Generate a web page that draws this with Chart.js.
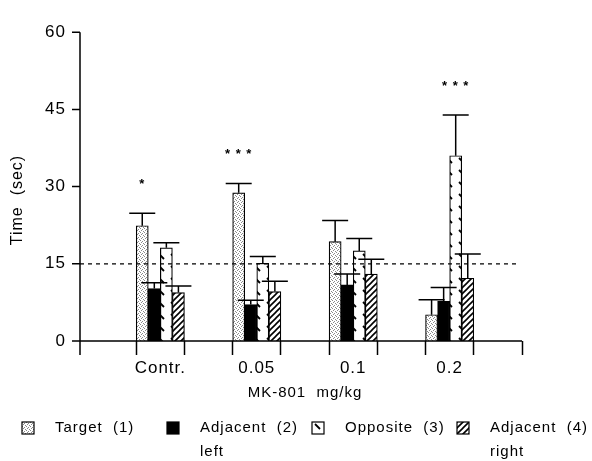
<!DOCTYPE html>
<html>
<head>
<meta charset="utf-8">
<script src="https://cdn.jsdelivr.net/npm/chart.js@4.4.1/dist/chart.umd.min.js"></script>
<style>
  html, body { margin: 0; padding: 0; background: #fff; }
  #wrap { width: 592px; height: 461px; }
</style>
</head>
<body>
<div id="wrap"><canvas id="timeChart"></canvas></div>
<script>
// values (seconds, mean + SEM)
const doses = ['Contr.', '0.05', '0.1', '0.2'];
const seriesNames = ['Target  (1)', 'Adjacent  (2)', 'Opposite  (3)', 'Adjacent  (4)'];
const seriesSub = ['', 'left', '', 'right'];

const target = [22.4, 28.8, 19.3, 5.1];
const targetErr = [2.4, 1.8, 4.1, 2.9];
const adjLeft = [10.2, 7.1, 10.9, 7.7];
const adjLeftErr = [1.1, 0.8, 2.1, 2.7];
const opposite = [18.1, 15.1, 17.5, 36.0];
const oppositeErr = [1.0, 1.3, 2.4, 7.9];
const adjRight = [9.4, 9.6, 13.0, 12.2];
const adjRightErr = [1.3, 2.0, 2.9, 4.7];

const yTicks = [0, 15, 30, 45, 60];
const chanceLevel = 15;
const stars = ['*', '* * *', '', '* * *'];
const starSeries = [0, 0, -1, 2];

const FONT = "'Liberation Sans', Arial, sans-serif";

// gaps between dose groups, like the original axis
const labels = [''];
doses.forEach(d => labels.push(d, ''));
function pad(arr) {
    const out = [null];
    arr.forEach(v => out.push(v, null));
    return out;
}

// fill patterns
function makePattern(w, h, draw) {
    const c = document.createElement('canvas');
    c.width = w; c.height = h;
    const g = c.getContext('2d');
    g.fillStyle = '#fff';
    g.fillRect(0, 0, w, h);
    draw(g);
    return c;
}
const stippleCanvas = makePattern(4, 4, g => {
    g.fillStyle = '#8a8a8a';
    [[0, 0], [2, 1], [1, 2], [3, 3]].forEach(([a, b]) => g.fillRect(a, b, 1, 1));
});
const dashCanvas = makePattern(12, 12, g => {
    g.strokeStyle = '#000'; g.lineWidth = 1.8;
    g.beginPath(); g.moveTo(3, 2); g.lineTo(8, 7); g.stroke();
});
const hatchCanvas = makePattern(6, 6, g => {
    g.strokeStyle = '#000'; g.lineWidth = 1.6;
    g.beginPath();
    g.moveTo(-1, 7); g.lineTo(7, -1);
    g.moveTo(-1, 1); g.lineTo(1, -1);
    g.moveTo(5, 7); g.lineTo(7, 5);
    g.stroke();
});

const ctx = document.getElementById('timeChart').getContext('2d');
const fills = [
    ctx.createPattern(stippleCanvas, 'repeat'),
    '#000',
    ctx.createPattern(dashCanvas, 'repeat'),
    ctx.createPattern(hatchCanvas, 'repeat')
];
const values = [target, adjLeft, opposite, adjRight];
const errors = [targetErr, adjLeftErr, oppositeErr, adjRightErr];

const extras = {
    id: 'extras',
    beforeDraw(chart) {
        chart.ctx.letterSpacing = '1px';
    },
    afterDatasetsDraw(chart) {
        const { ctx, chartArea, scales: { x, y } } = chart;
        const axisX = chartArea.left - 8;
        ctx.save();
        ctx.strokeStyle = '#000';

        // chance level
        ctx.lineWidth = 1.3;
        ctx.setLineDash([4, 4]);
        const yc = y.getPixelForValue(chanceLevel);
        ctx.beginPath();
        ctx.moveTo(axisX, yc);
        ctx.lineTo(chartArea.right - 4, yc);
        ctx.stroke();
        ctx.setLineDash([]);

        // error bars (upper only)
        ctx.lineWidth = 1.5;
        chart.data.datasets.forEach((ds, di) => {
            chart.getDatasetMeta(di).data.forEach((bar, i) => {
                const v = ds.data[i];
                if (v == null) return;
                const top = y.getPixelForValue(v + ds.err[i]);
                ctx.beginPath();
                ctx.moveTo(bar.x, bar.y);
                ctx.lineTo(bar.x, top);
                ctx.moveTo(bar.x - 13, top);
                ctx.lineTo(bar.x + 13, top);
                ctx.stroke();
            });
        });

        // significance stars
        ctx.fillStyle = '#000';
        ctx.font = 'bold 13px ' + FONT;
        ctx.textAlign = 'center';
        ctx.textBaseline = 'middle';
        stars.forEach((s, d) => {
            if (!s) return;
            const di = starSeries[d];
            const slot = 2 * d + 1;
            const ds = chart.data.datasets[di];
            const bar = chart.getDatasetMeta(di).data[slot];
            const top = y.getPixelForValue(ds.data[slot] + ds.err[slot]);
            ctx.fillText(s, bar.x, top - 29);
        });

        // axes lines
        ctx.lineWidth = 1.5;
        ctx.beginPath();
        ctx.moveTo(axisX, y.getPixelForValue(yTicks[yTicks.length - 1]));
        ctx.lineTo(axisX, chartArea.bottom + 14);
        ctx.moveTo(axisX, chartArea.bottom);
        ctx.lineTo(chartArea.right, chartArea.bottom);
        yTicks.forEach(v => {
            const py = y.getPixelForValue(v);
            ctx.moveTo(axisX - 8, py);
            ctx.lineTo(axisX, py);
        });
        ctx.stroke();
        ctx.restore();
    },
    afterDraw(chart) {
        const { ctx } = chart;
        ctx.save();
        ctx.letterSpacing = '1px';
        ctx.fillStyle = '#000';

        // y title
        ctx.font = '16px ' + FONT;
        ctx.textAlign = 'center';
        ctx.textBaseline = 'middle';
        ctx.translate(18, 200);
        ctx.rotate(-Math.PI / 2);
        ctx.fillText('Time  (sec)', 0, 0);
        ctx.setTransform(1, 0, 0, 1, 0, 0);

        // legend
        ctx.font = '15px ' + FONT;
        ctx.textAlign = 'left';
        ctx.textBaseline = 'middle';
        seriesNames.forEach((name, i) => {
            const bx = 22 + i * 145;
            const by = 422;
            ctx.save();
            ctx.translate(bx, by);
            ctx.fillStyle = fills[i];
            ctx.fillRect(0, 0, 12, 12);
            ctx.strokeStyle = '#000';
            ctx.lineWidth = 1.2;
            ctx.strokeRect(0, 0, 12, 12);
            ctx.restore();
            ctx.fillText(name, bx + 33, by + 6);
            if (seriesSub[i]) ctx.fillText(seriesSub[i], bx + 33, by + 30);
        });
        ctx.restore();
    }
};

new Chart(ctx, {
    type: 'bar',
    data: {
        labels,
        datasets: seriesNames.map((name, i) => ({
            label: name,
            data: pad(values[i]),
            err: pad(errors[i]),
            backgroundColor: fills[i],
            borderColor: '#000',
            borderWidth: 1.2,
            borderSkipped: 'bottom',
            categoryPercentage: 1,
            barPercentage: 1
        }))
    },
    options: {
        responsive: true,
        maintainAspectRatio: false,
        animation: false,
        layout: { padding: { left: 0, top: 21, right: 70, bottom: 0 } },
        plugins: {
            legend: { display: false },
            tooltip: { enabled: false }
        },
        scales: {
            x: {
                offset: true,
                afterFit: s => { s.height = 120; },
                border: { display: false },
                grid: {
                    offset: true,
                    drawOnChartArea: false,
                    tickLength: 14,
                    tickWidth: 1.5,
                    tickColor: c => c.index === 0 ? 'rgba(0,0,0,0)' : '#000'
                },
                ticks: {
                    color: '#000',
                    padding: 3,
                    maxRotation: 0,
                    autoSkip: false,
                    font: { family: FONT, size: 17 }
                },
                title: {
                    display: true,
                    text: 'MK-801  mg/kg',
                    color: '#000',
                    font: { family: FONT, size: 15 },
                    padding: { top: 0, bottom: 59 }
                }
            },
            y: {
                min: 0,
                max: 60,
                afterFit: s => { s.width = 88; },
                afterBuildTicks: s => { s.ticks = yTicks.map(v => ({ value: v })); },
                border: { display: false },
                grid: { display: false, drawTicks: false },
                ticks: {
                    color: '#000',
                    padding: 22,
                    font: { family: FONT, size: 17 }
                }
            }
        }
    },
    plugins: [extras]
});
</script>
</body>
</html>
